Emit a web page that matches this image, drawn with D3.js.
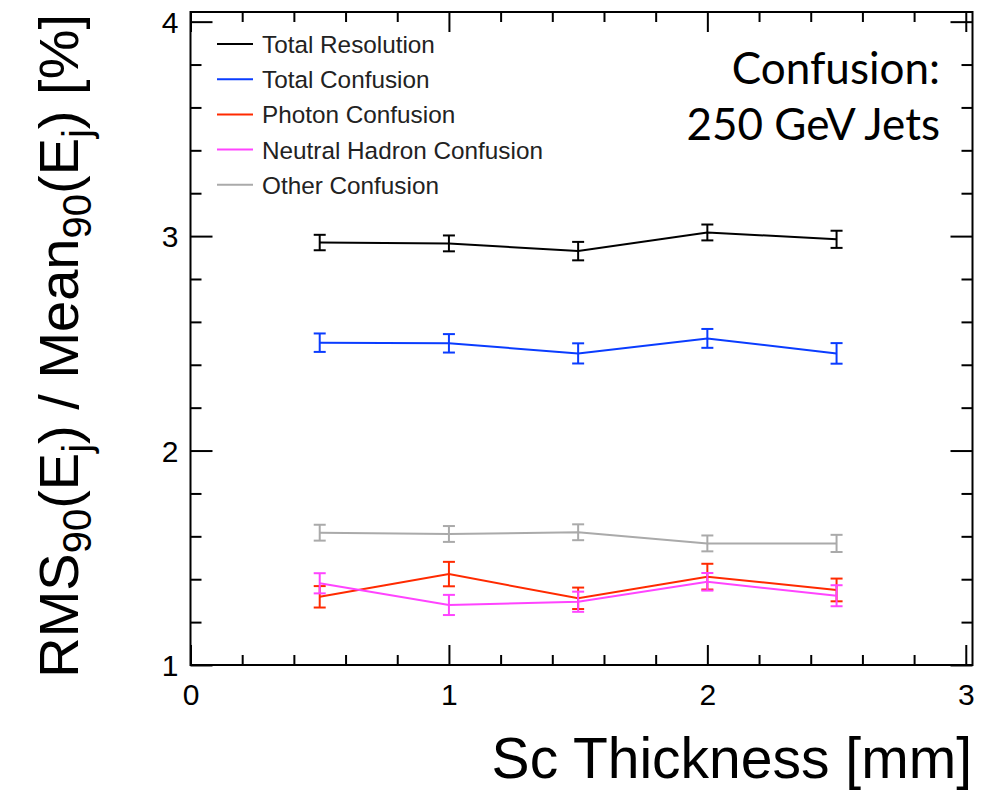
<!DOCTYPE html>
<html>
<head>
<meta charset="utf-8">
<script src="https://cdn.jsdelivr.net/npm/d3@7"></script>
<style>
  html, body { margin: 0; padding: 0; background: #ffffff; }
  svg { display: block; }
  .tick text { font-family: "Liberation Sans", Arial, sans-serif; }
</style>
</head>
<body>
<svg id="chart" width="999" height="791"></svg>
<script>
// Scintillator thickness scan, 250 GeV jets
const thickness = [0.5, 1.0, 1.5, 2.0, 2.5];

const totalResolution        = [2.970, 2.966, 2.930, 3.017, 2.985];
const totalResolutionErr     = [0.036, 0.037, 0.043, 0.037, 0.040];
const totalConfusion         = [2.503, 2.500, 2.453, 2.523, 2.453];
const totalConfusionErr      = [0.043, 0.043, 0.047, 0.044, 0.048];
const photonConfusion        = [1.318, 1.424, 1.311, 1.412, 1.350];
const photonConfusionErr     = [0.050, 0.057, 0.050, 0.060, 0.053];
const neutralHadronConfusion = [1.381, 1.280, 1.295, 1.388, 1.323];
const neutralHadronConfusionErr = [0.047, 0.047, 0.047, 0.041, 0.049];
const otherConfusion         = [1.617, 1.611, 1.619, 1.567, 1.567];
const otherConfusionErr      = [0.037, 0.037, 0.037, 0.037, 0.040];

const seriesNames = ["Total Resolution", "Total Confusion", "Photon Confusion",
                     "Neutral Hadron Confusion", "Other Confusion"];
const seriesColors = ["#000000", "#0a3cff", "#ff2a00", "#ff44ff", "#aaaaaa"];

const xMajorTicks = [0, 1, 2, 3];
const yMajorTicks = [1, 2, 3, 4];

const series = [
  { name: seriesNames[0], color: seriesColors[0], y: totalResolution, e: totalResolutionErr },
  { name: seriesNames[1], color: seriesColors[1], y: totalConfusion, e: totalConfusionErr },
  { name: seriesNames[2], color: seriesColors[2], y: photonConfusion, e: photonConfusionErr },
  { name: seriesNames[3], color: seriesColors[3], y: neutralHadronConfusion, e: neutralHadronConfusionErr },
  { name: seriesNames[4], color: seriesColors[4], y: otherConfusion, e: otherConfusionErr }
];

const svg = d3.select("#chart");

// Frame geometry
const frameLeft = 190.5, frameRight = 972.5, frameTop = 12, frameBottom = 665;
const x = d3.scaleLinear().domain([0, 3.026]).range([frameLeft, frameRight]);
const y = d3.scaleLinear().domain([1, 4.045]).range([frameBottom, frameTop]);

const xMinor = d3.range(0, 3.0001, 0.2).map(v => +v.toFixed(1)).filter(v => !xMajorTicks.includes(v));
const yMinor = d3.range(1, 4.0001, 0.2).map(v => +v.toFixed(1)).filter(v => !yMajorTicks.includes(v));

function styleAxis(g) {
  g.select(".domain").remove();
  g.selectAll(".tick line").attr("stroke", "#000").attr("stroke-width", 2);
}

// Bottom axis: labelled major ticks + minor ticks, pointing inward
svg.append("g").attr("transform", `translate(0,${frameBottom})`)
  .call(d3.axisBottom(x).tickValues(xMajorTicks).tickSizeInner(-20).tickSizeOuter(0).tickPadding(0).tickFormat(d3.format("d")))
  .call(styleAxis)
  .call(g => g.selectAll(".tick text").attr("font-size", 30).attr("fill", "#000").attr("dy", null).attr("y", 40));
svg.append("g").attr("transform", `translate(0,${frameBottom})`)
  .call(d3.axisBottom(x).tickValues(xMinor).tickSizeInner(-10).tickSizeOuter(0).tickFormat(""))
  .call(styleAxis);

// Top axis (ticks only)
svg.append("g").attr("transform", `translate(0,${frameTop})`)
  .call(d3.axisTop(x).tickValues(xMajorTicks).tickSizeInner(-20).tickSizeOuter(0).tickFormat(""))
  .call(styleAxis);
svg.append("g").attr("transform", `translate(0,${frameTop})`)
  .call(d3.axisTop(x).tickValues(xMinor).tickSizeInner(-10).tickSizeOuter(0).tickFormat(""))
  .call(styleAxis);

// Left axis
svg.append("g").attr("transform", `translate(${frameLeft},0)`)
  .call(d3.axisLeft(y).tickValues(yMajorTicks).tickSizeInner(-22).tickSizeOuter(0).tickPadding(0).tickFormat(d3.format("d")))
  .call(styleAxis)
  .call(g => g.selectAll(".tick text").attr("font-size", 30).attr("fill", "#000")
    .attr("x", -12).attr("dy", "0.36em"));
svg.append("g").attr("transform", `translate(${frameLeft},0)`)
  .call(d3.axisLeft(y).tickValues(yMinor).tickSizeInner(-11).tickSizeOuter(0).tickFormat(""))
  .call(styleAxis);

// Right axis (ticks only)
svg.append("g").attr("transform", `translate(${frameRight},0)`)
  .call(d3.axisRight(y).tickValues(yMajorTicks).tickSizeInner(-22).tickSizeOuter(0).tickFormat(""))
  .call(styleAxis);
svg.append("g").attr("transform", `translate(${frameRight},0)`)
  .call(d3.axisRight(y).tickValues(yMinor).tickSizeInner(-11).tickSizeOuter(0).tickFormat(""))
  .call(styleAxis);

// Frame
svg.append("rect")
  .attr("x", frameLeft).attr("y", frameTop)
  .attr("width", frameRight - frameLeft).attr("height", frameBottom - frameTop)
  .attr("fill", "none").attr("stroke", "#000").attr("stroke-width", 2);

// Data: connecting lines and error bars
const line = d3.line().x(d => x(d[0])).y(d => y(d[1]));
const capHalf = 6;

series.forEach(s => {
  const g = svg.append("g");
  const pts = thickness.map((t, i) => [t, s.y[i], s.e[i]]);
  g.append("path")
    .attr("d", line(pts))
    .attr("fill", "none").attr("stroke", s.color).attr("stroke-width", 2);
  const bars = g.selectAll("g.err").data(pts).join("g").attr("class", "err");
  bars.append("line")
    .attr("x1", d => x(d[0])).attr("x2", d => x(d[0]))
    .attr("y1", d => y(d[1] - d[2])).attr("y2", d => y(d[1] + d[2]))
    .attr("stroke", s.color).attr("stroke-width", 2);
  bars.append("line")
    .attr("x1", d => x(d[0]) - capHalf).attr("x2", d => x(d[0]) + capHalf)
    .attr("y1", d => y(d[1] - d[2])).attr("y2", d => y(d[1] - d[2]))
    .attr("stroke", s.color).attr("stroke-width", 2);
  bars.append("line")
    .attr("x1", d => x(d[0]) - capHalf).attr("x2", d => x(d[0]) + capHalf)
    .attr("y1", d => y(d[1] + d[2])).attr("y2", d => y(d[1] + d[2]))
    .attr("stroke", s.color).attr("stroke-width", 2);
});

// Legend
const legend = svg.append("g").attr("transform", "translate(217,44)");
series.forEach((s, i) => {
  const row = legend.append("g").attr("transform", `translate(0,${i * 35.2})`);
  row.append("line").attr("x1", 0).attr("x2", 36).attr("y1", 0).attr("y2", 0)
    .attr("stroke", s.color).attr("stroke-width", 2);
  row.append("text").attr("x", 45).attr("y", 9)
    .attr("font-family", "'Liberation Sans', Arial, sans-serif")
    .attr("font-size", 24.3).attr("fill", "#222")
    .text(s.name);
});

// Annotation
const note = svg.append("g")
  .attr("font-family", "Lato, 'Open Sans', sans-serif")
  .attr("font-size", 44).attr("fill", "#000").attr("text-anchor", "end");
note.append("text").attr("x", 940).attr("y", 84).text("Confusion:");
note.append("text").attr("x", 940).attr("y", 140).text("250 GeV Jets");

// X axis title
svg.append("text")
  .attr("x", 972).attr("y", 778)
  .attr("text-anchor", "end")
  .attr("font-family", "'Liberation Sans', Arial, sans-serif")
  .attr("font-size", 57).attr("fill", "#000")
  .text("Sc Thickness [mm]");

// Y axis title with subscripts
const yTitle = svg.append("text")
  .attr("transform", "translate(78,14) rotate(-90)")
  .attr("text-anchor", "end")
  .attr("font-family", "'Liberation Sans', Arial, sans-serif")
  .attr("font-size", 56).attr("fill", "#000");
const parts = [
  ["RMS", false], ["90", true], ["(E", false], ["j", true],
  [") / Mean", false], ["90", true], ["(E", false], ["j", true], [") [%]", false]
];
let shifted = false;
parts.forEach(([t, sub]) => {
  const ts = yTitle.append("tspan").text(t);
  if (sub && !shifted) { ts.attr("dy", 13).attr("font-size", 40); shifted = true; }
  else if (!sub && shifted) { ts.attr("dy", -13); shifted = false; }
  else if (sub) { ts.attr("font-size", 40); }
});
</script>
</body>
</html>
